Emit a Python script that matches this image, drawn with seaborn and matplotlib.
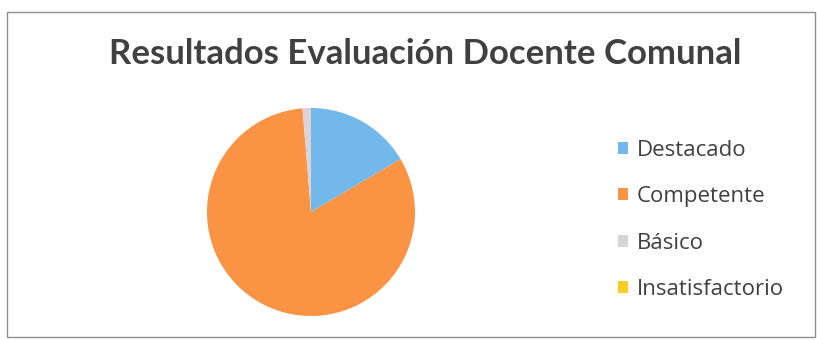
import matplotlib
matplotlib.use("Agg")
import matplotlib.pyplot as plt
import seaborn as sns
from matplotlib.patches import Rectangle

# Share of teachers per evaluation level (%)
categorias = ["Destacado", "Competente", "Básico", "Insatisfactorio"]
porcentajes = [16.5, 82.2, 1.3, 0.0]
colores = ["#72B8EA", "#FA9444", "#DCD3D8", "#F8CE22"]
titulo = "Resultados Evaluación Docente Comunal"

sns.set_theme(style="white")
plt.rcParams["font.family"] = ["Lato", "DejaVu Sans"]

W, H = 817, 340
fig = plt.figure(figsize=(W / 100, H / 100), dpi=100)
fig.patch.set_facecolor("white")

# Chart frame
frame = Rectangle((7 / W, 3 / H), 808 / W, 325 / H, transform=fig.transFigure,
                  fill=False, edgecolor="#8f8f8f", linewidth=1.0)
fig.patches.append(frame)

fig.text(425 / W, 1 - 54 / H, titulo, ha="center", va="center",
         fontsize=25, fontweight="bold", color="#404040")

# Pie axes: centre (311, 212), radius 104 px
cx, cy, r = 311, 212, 104
ax = fig.add_axes([(cx - r) / W, (H - cy - r) / H, 2 * r / W, 2 * r / H])
palette = sns.color_palette(colores)
wedges, _ = ax.pie(porcentajes, colors=palette, startangle=90, counterclock=False,
                   radius=1.0, wedgeprops=dict(linewidth=0))
ax.set_xlim(-1, 1)
ax.set_ylim(-1, 1)
ax.set_aspect("equal")
ax.axis("off")

leg = fig.legend(wedges, categorias, loc="center left",
                 bbox_to_anchor=(607 / W, 1 - 220 / H), frameon=False,
                 prop={"family": ["Open Sans", "DejaVu Sans"], "size": 16},
                 handlelength=0.45, handleheight=0.45,
                 handletextpad=0.4, labelspacing=1.15, borderpad=0)
for t in leg.get_texts():
    t.set_color("#404040")

fig.savefig("out.png", dpi=100, facecolor="white")
